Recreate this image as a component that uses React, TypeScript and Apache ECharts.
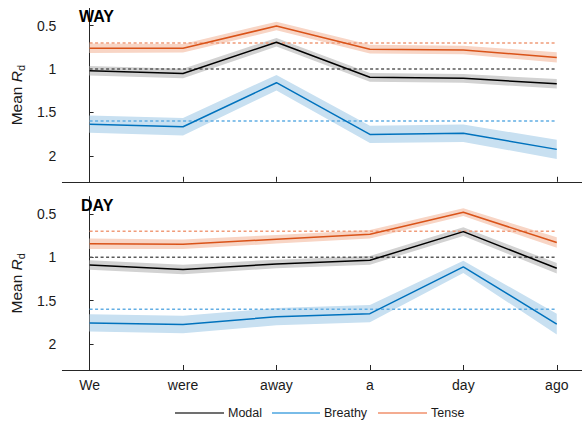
import React, { useEffect, useRef } from "react";
import * as echarts from "echarts";

const categories = ["We", "were", "away", "a", "day", "ago"];
const yTicks = [0.5, 1, 1.5, 2];
const xTicks = [0, 1, 2, 3, 4, 5];

// Reference (dashed) levels
const refModal = 1.0;
const refBreathy = 1.6;
const refTense = 0.7;

// WAY panel
const wayModal = [1.02, 1.05, 0.69, 1.095, 1.107, 1.17];
const wayModalCI = [0.055, 0.055, 0.05, 0.05, 0.05, 0.055];
const wayBreathy = [1.635, 1.665, 1.157, 1.753, 1.74, 1.926];
const wayBreathyCI = [0.1, 0.1, 0.09, 0.1, 0.1, 0.11];
const wayTense = [0.76, 0.76, 0.503, 0.77, 0.78, 0.865];
const wayTenseCI = [0.055, 0.05, 0.05, 0.05, 0.05, 0.06];

// DAY panel
const dayModal = [1.088, 1.14, 1.077, 1.035, 0.704, 1.127];
const dayModalCI = [0.055, 0.055, 0.05, 0.05, 0.05, 0.06];
const dayBreathy = [1.757, 1.775, 1.685, 1.65, 1.11, 1.77];
const dayBreathyCI = [0.1, 0.1, 0.1, 0.1, 0.07, 0.12];
const dayTense = [0.843, 0.85, 0.792, 0.734, 0.48, 0.83];
const dayTenseCI = [0.06, 0.055, 0.05, 0.05, 0.045, 0.06];

const COLORS = {
  modal: "#000000",
  breathy: "#0072BD",
  tense: "#D95319",
  modalBand: "#d2d2d2",
  breathyBand: "#c8e0f1",
  tenseBand: "#f8d5c5",
  modalRef: "#5a5a5a",
  breathyRef: "#62aee4",
  tenseRef: "#f09c7a",
  modalLegend: "#404040",
  breathyLegend: "#4da6e0",
  tenseLegend: "#f0916c",
};

const FONT = "Liberation Sans, Arial, sans-serif";
const AXIS_COLOR = "#262626";

function band(idx: number, mean: number[], ci: number[], color: string) {
  return {
    type: "custom",
    xAxisIndex: idx,
    yAxisIndex: idx,
    z: 1,
    silent: true,
    data: [0],
    renderItem: (_params: any, api: any) => {
      const upper = mean.map((v, i) => api.coord([i, v - ci[i]]));
      const lower = mean.map((v, i) => api.coord([i, v + ci[i]])).reverse();
      return {
        type: "polygon",
        shape: { points: upper.concat(lower) },
        style: { fill: color },
      };
    },
  };
}

function refLine(idx: number, level: number, color: string) {
  return {
    type: "line",
    xAxisIndex: idx,
    yAxisIndex: idx,
    z: 2,
    symbol: "none",
    silent: true,
    data: [
      [xTicks[0], level],
      [xTicks[xTicks.length - 1], level],
    ],
    lineStyle: { color, width: 1.5, type: [3, 2.5] },
  };
}

function meanLine(idx: number, mean: number[], color: string) {
  return {
    type: "line",
    xAxisIndex: idx,
    yAxisIndex: idx,
    z: 3,
    symbol: "none",
    silent: true,
    data: mean.map((v, i) => [i, v]),
    lineStyle: { color, width: 1.5 },
  };
}

function panelSeries(
  idx: number,
  modal: number[],
  modalCI: number[],
  breathy: number[],
  breathyCI: number[],
  tense: number[],
  tenseCI: number[]
) {
  return [
    band(idx, modal, modalCI, COLORS.modalBand),
    band(idx, breathy, breathyCI, COLORS.breathyBand),
    band(idx, tense, tenseCI, COLORS.tenseBand),
    refLine(idx, refModal, COLORS.modalRef),
    refLine(idx, refBreathy, COLORS.breathyRef),
    refLine(idx, refTense, COLORS.tenseRef),
    meanLine(idx, modal, COLORS.modal),
    meanLine(idx, breathy, COLORS.breathy),
    meanLine(idx, tense, COLORS.tense),
  ];
}

function xAxis(idx: number, showLabels: boolean) {
  return {
    type: "value",
    gridIndex: idx,
    min: -0.2914,
    max: 5.27,
    axisLine: { show: true, onZero: false, lineStyle: { color: AXIS_COLOR, width: 1 } },
    axisTick: {
      show: true,
      inside: true,
      length: 5,
      customValues: xTicks,
      lineStyle: { color: AXIS_COLOR },
    },
    axisLabel: {
      show: showLabels,
      customValues: xTicks,
      formatter: (v: number) => categories[Math.round(v)] ?? "",
      color: "#1a1a1a",
      fontSize: 14,
      fontFamily: FONT,
      margin: 8,
    },
    splitLine: { show: false },
  };
}

function yAxis(idx: number) {
  return {
    type: "value",
    gridIndex: idx,
    inverse: true,
    min: 0.3,
    max: 2.3,
    name: "{m|Mean }{r|R}{s|d}",
    nameLocation: "middle",
    nameGap: 27,
    nameTextStyle: {
      rich: {
        m: { fontSize: 15.5, fontFamily: FONT, color: "#1a1a1a", lineHeight: 20, verticalAlign: "middle" },
        r: { fontSize: 15.5, fontFamily: FONT, fontStyle: "italic", color: "#1a1a1a", lineHeight: 20, verticalAlign: "middle" },
        s: { fontSize: 11, fontFamily: FONT, color: "#1a1a1a", lineHeight: 11, verticalAlign: "bottom" },
      },
    },
    axisLine: { show: true, lineStyle: { color: AXIS_COLOR, width: 1 } },
    axisTick: {
      show: true,
      inside: true,
      length: 4,
      customValues: yTicks,
      lineStyle: { color: AXIS_COLOR },
    },
    axisLabel: {
      show: true,
      customValues: yTicks,
      formatter: (v: number) => String(v),
      color: "#1a1a1a",
      fontSize: 14,
      fontFamily: FONT,
      margin: 6,
    },
    splitLine: { show: false },
  };
}

const legendItems = [
  { name: "Modal", color: COLORS.modalLegend, x1: 175, x2: 224, tx: 228 },
  { name: "Breathy", color: COLORS.breathyLegend, x1: 272, x2: 320, tx: 324 },
  { name: "Tense", color: COLORS.tenseLegend, x1: 378, x2: 427, tx: 431 },
];

export default function App() {
  const ref = useRef<HTMLDivElement>(null);

  useEffect(() => {
    if (!ref.current) return;
    const chart = echarts.init(ref.current, undefined, { renderer: "svg" });

    const graphic: any[] = [];
    legendItems.forEach((it) => {
      graphic.push({
        type: "line",
        shape: { x1: it.x1, y1: 413, x2: it.x2, y2: 413 },
        style: { stroke: it.color, lineWidth: 1.5 },
      });
      graphic.push({
        type: "text",
        x: it.tx,
        y: 413,
        style: {
          text: it.name,
          fill: "#1a1a1a",
          font: `12.5px ${FONT}`,
          verticalAlign: "middle",
          align: "left",
        },
      });
    });

    chart.setOption({
      animation: false,
      textStyle: { fontFamily: FONT },
      title: [
        {
          text: "WAY",
          left: 79,
          top: 8,
          padding: 0,
          textStyle: { fontSize: 16, fontWeight: "bold", color: "#000", fontFamily: FONT },
        },
        {
          text: "DAY",
          left: 81,
          top: 197,
          padding: 0,
          textStyle: { fontSize: 16, fontWeight: "bold", color: "#000", fontFamily: FONT },
        },
      ],
      grid: [
        { left: 61, top: 8.4, height: 173.4, right: 0 },
        { left: 61, top: 196.6, height: 173.4, right: 0 },
      ],
      xAxis: [xAxis(0, false), xAxis(1, true)],
      yAxis: [yAxis(0), yAxis(1)],
      graphic,
      series: [
        ...panelSeries(0, wayModal, wayModalCI, wayBreathy, wayBreathyCI, wayTense, wayTenseCI),
        ...panelSeries(1, dayModal, dayModalCI, dayBreathy, dayBreathyCI, dayTense, dayTenseCI),
      ],
    });

    return () => chart.dispose();
  }, []);

  return (
    <div
      ref={ref}
      style={{ position: "fixed", left: 0, top: 0, width: 582, height: 423, background: "#fff" }}
    />
  );
}
